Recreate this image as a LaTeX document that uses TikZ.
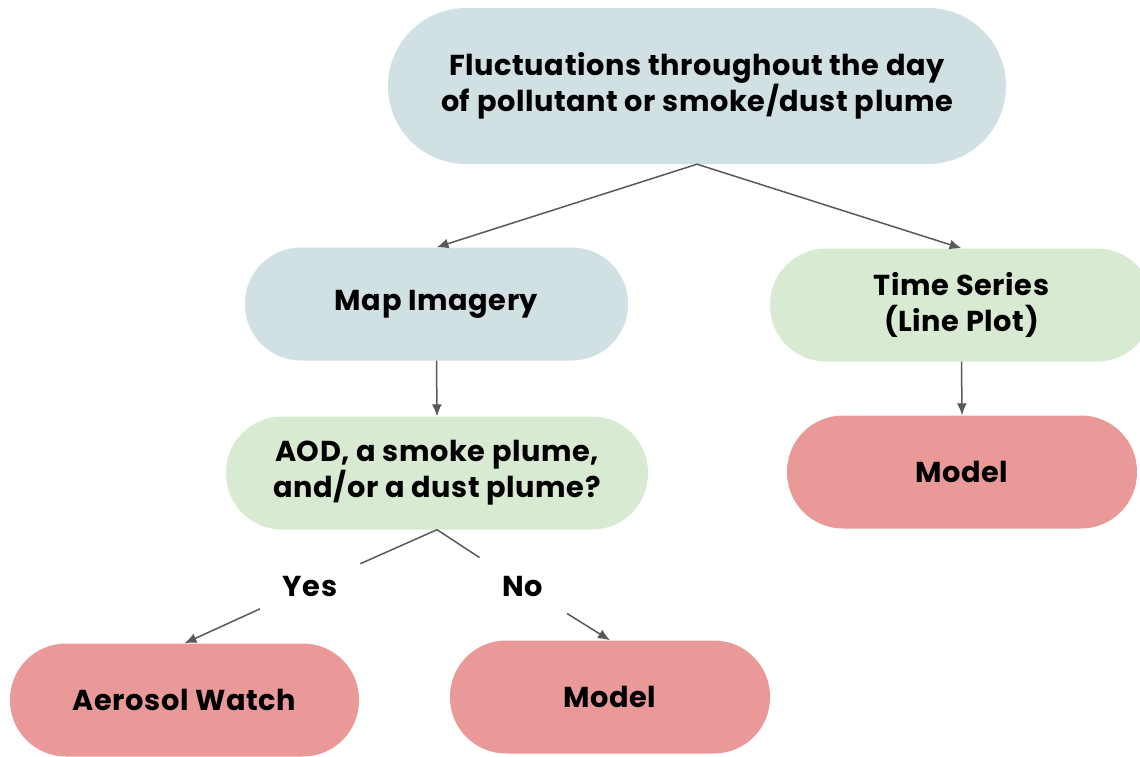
\documentclass[tikz,border=0pt]{standalone}
\usepackage{fontspec}
\setmainfont{Poppins}[LetterSpace=2]
\usetikzlibrary{arrows.meta}
\definecolor{bluegrey}{HTML}{D0E0E3}
\definecolor{palegreen}{HTML}{D9EAD3}
\definecolor{salmon}{HTML}{EA9999}
\definecolor{linegrey}{HTML}{595959}
\begin{document}
\begin{tikzpicture}[x=1pt,y=-1pt,
  pill/.style={rectangle, rounded corners=56pt, minimum width=383pt, minimum height=113pt,
    inner sep=0pt, align=center, font=\fontsize{28.8}{36}\selectfont\bfseries},
  bluepill/.style={pill, fill=bluegrey},
  greenpill/.style={pill, fill=palegreen},
  redpill/.style={pill, fill=salmon},
  lbl/.style={inner sep=0pt, font=\fontsize{28.8}{30}\selectfont\bfseries},
  conn/.style={draw=linegrey, line width=1.5pt},
  arr/.style={conn, -{Latex[length=12pt,width=10pt]}}
]
\useasboundingbox (0,0) rectangle (1140,756);

\node[bluepill, minimum width=618pt, minimum height=156pt, rounded corners=78pt] (top) at (697,86)
  {Fluctuations throughout the day\\of pollutant or smoke/dust plume};
\node[bluepill] (map) at (436.5,304) {Map Imagery};
\node[greenpill] (ts) at (961.5,305) {Time Series\\(Line Plot)};
\node[greenpill, minimum width=422pt] (aod) at (437,473) {AOD, a smoke plume,\\and/or a dust plume?};
\node[redpill, minimum width=350pt] (m1) at (962,472) {Model};
\node[redpill, minimum width=349pt] (aw) at (184.5,700) {Aerosol Watch};
\node[redpill, minimum width=320pt] (m2) at (610,697) {Model};

\node[lbl] (yes) at (310,586) {Yes};
\node[lbl] (no) at (523,586) {No};

\draw[arr] (top.south) -- (map.north);
\draw[arr] (top.south) -- (ts.north);
\draw[arr] (map.south) -- (aod.north);
\draw[arr] (ts.south) -- (m1.north);

\draw[conn, shorten >=55pt] (aod.south) -- (yes.center);
\draw[arr, shorten <=55pt] (yes.center) -- (aw.north);
\draw[conn, shorten >=52pt] (aod.south) -- (no.center);
\draw[arr, shorten <=52pt] (no.center) -- (m2.north);
\end{tikzpicture}
\end{document}
